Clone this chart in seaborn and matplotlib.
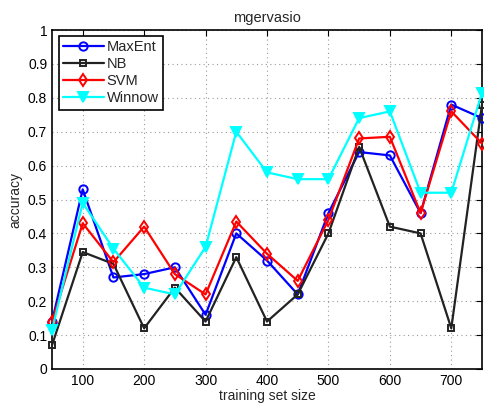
import matplotlib
matplotlib.use("Agg")
import matplotlib.pyplot as plt
import seaborn as sns
import pandas as pd

sizes = [50, 100, 150, 200, 250, 300, 350, 400, 450, 500, 550, 600, 650, 700, 750]
maxent = [0.14, 0.53, 0.27, 0.28, 0.30, 0.16, 0.40, 0.32, 0.22, 0.46, 0.64, 0.63, 0.46, 0.78, 0.74]
nb = [0.07, 0.345, 0.31, 0.12, 0.24, 0.14, 0.33, 0.14, 0.22, 0.40, 0.655, 0.42, 0.40, 0.12, 0.78]
svm = [0.14, 0.43, 0.315, 0.42, 0.28, 0.22, 0.435, 0.34, 0.26, 0.44, 0.68, 0.685, 0.46, 0.76, 0.665]
winnow = [0.115, 0.49, 0.355, 0.24, 0.22, 0.36, 0.70, 0.58, 0.56, 0.56, 0.74, 0.76, 0.52, 0.52, 0.815]
series_names = ["MaxEnt", "NB", "SVM", "Winnow"]

rows = []
for name, vals in zip(series_names, [maxent, nb, svm, winnow]):
    for s, v in zip(sizes, vals):
        rows.append({"size": s, "acc": v, "method": name})
df = pd.DataFrame(rows)

sns.set_style("white")
plt.rcParams['font.family'] = ['Liberation Sans', 'DejaVu Sans']

colors = {"MaxEnt": "#0000ff", "NB": "#222222", "SVM": "#ff0000", "Winnow": "#00ffff"}
markers = {"MaxEnt": "o", "NB": "s", "SVM": "d", "Winnow": "v"}
msizes = {"MaxEnt": 6, "NB": 4.5, "SVM": 6, "Winnow": 6.5}

fig = plt.figure(figsize=(4.85, 4.03), dpi=100)
ax = fig.add_axes([52/485, 1 - 369/403, 430/485, 339/403])

for name in series_names:
    sub = df[df["method"] == name]
    mfc = colors[name] if name == "Winnow" else "none"
    sns.lineplot(data=sub, x="size", y="acc", ax=ax, color=colors[name],
                 marker=markers[name], markersize=msizes[name],
                 markerfacecolor=mfc, markeredgecolor=colors[name],
                 markeredgewidth=1.4, linewidth=1.6, label=name, zorder=3,
                 clip_on=False)

ax.set_xlim(50, 750)
ax.set_ylim(0, 1)
ax.set_xticks([100, 200, 300, 400, 500, 600, 700])
ax.set_yticks([0, 0.1, 0.2, 0.3, 0.4, 0.5, 0.6, 0.7, 0.8, 0.9, 1])
ax.set_yticklabels(["0", "0.1", "0.2", "0.3", "0.4", "0.5", "0.6", "0.7", "0.8", "0.9", "1"])
ax.grid(True, linestyle=(0, (1, 3)), color="#999999", linewidth=0.8)
ax.tick_params(direction="in", top=True, right=True, length=4, labelsize=10, colors="black")
for sp in ax.spines.values():
    sp.set_color("black")
    sp.set_linewidth(1.2)
    sp.set_zorder(2.5)
ax.set_xlabel("training set size", fontsize=10, labelpad=1)
ax.set_ylabel("accuracy", fontsize=10, labelpad=4)
ax.set_title("mgervasio", fontsize=10.5, pad=6)

leg = ax.legend(loc="upper left", bbox_to_anchor=(0.005, 0.995), fancybox=False,
                framealpha=1, edgecolor="black", fontsize=10.5, borderpad=0.3,
                labelspacing=0.2, handlelength=2.8, handletextpad=0.2, borderaxespad=0.3)
leg.get_frame().set_linewidth(1.2)
leg.set_zorder(10)

fig.savefig("out.png", dpi=100)
